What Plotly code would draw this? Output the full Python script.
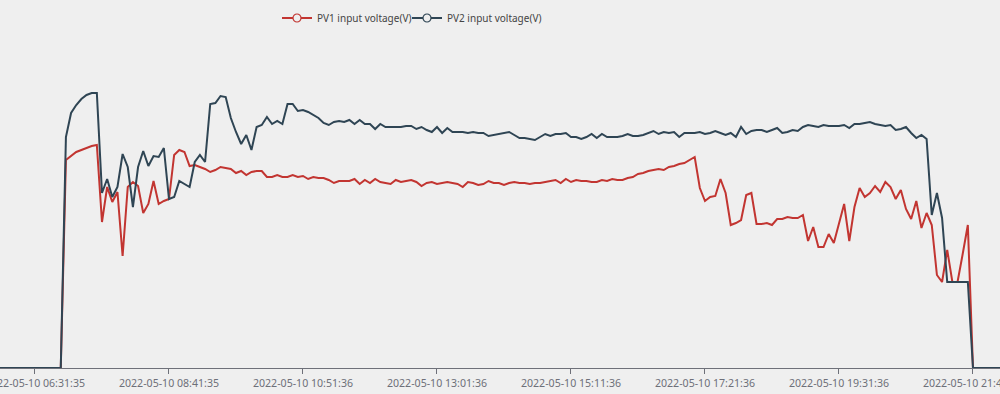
import plotly.graph_objects as go
from datetime import datetime, timedelta

# ---- data -------------------------------------------------------------
N_POINTS = 196
START_TIME = datetime(2022, 5, 10, 5, 56, 35)
TIMES = [
    (START_TIME + timedelta(minutes=5 * k, seconds=(1 if k >= 40 else 0))).strftime("%Y-%m-%d %H:%M:%S")
    for k in range(N_POINTS)
]

TICK_LABELS = [
    "2022-05-10 06:31:35",
    "2022-05-10 08:41:35",
    "2022-05-10 10:51:36",
    "2022-05-10 13:01:36",
    "2022-05-10 15:11:36",
    "2022-05-10 17:21:36",
    "2022-05-10 19:31:36",
    "2022-05-10 21:41:36",
]

PV1_V = (
    [0] * 13
    + [416, 424, 432, 436, 440, 444, 446, 292, 362, 332,
       352, 224, 362, 372, 364, 310, 328, 374, 328, 334,
       338, 426, 436, 432, 404, 406, 402, 398, 392, 396,
       402, 400, 398, 390, 394, 386, 392, 394, 394, 382,
       382, 386, 382, 382, 386, 382, 384, 378, 382, 380,
       380, 376, 370, 374, 374, 374, 378, 368, 376, 370,
       378, 372, 370, 368, 376, 372, 374, 376, 372, 364,
       370, 372, 368, 370, 372, 370, 368, 362, 372, 370,
       366, 368, 374, 370, 370, 366, 370, 372, 370, 370,
       368, 370, 370, 372, 374, 376, 370, 378, 372, 376,
       374, 374, 372, 372, 376, 374, 378, 376, 376, 380,
       382, 388, 390, 394, 396, 398, 396, 402, 404, 408,
       410, 416, 422, 360, 334, 342, 344, 378, 350, 286,
       290, 296, 346, 350, 288, 288, 290, 286, 298, 298,
       302, 300, 300, 306, 254, 282, 242, 242, 268, 250,
       292, 328, 254, 322, 360, 342, 350, 364, 352, 372,
       362, 338, 356, 318, 298, 334, 280, 310, 286, 186,
       172, 236, 172, 172, 228, 286]
    + [0] * 7
)

PV2_V = (
    [0] * 13
    + [462, 510, 526, 538, 546, 550, 550, 350, 378, 342,
       362, 428, 402, 322, 402, 434, 404, 424, 422, 440,
       338, 342, 374, 368, 362, 412, 426, 412, 528, 530,
       544, 542, 500, 472, 448, 466, 436, 482, 486, 502,
       488, 494, 488, 528, 528, 514, 516, 512, 506, 500,
       490, 486, 492, 494, 492, 496, 488, 496, 488, 488,
       478, 488, 482, 482, 482, 482, 484, 484, 478, 482,
       476, 472, 482, 470, 480, 472, 472,
       472, 470, 472, 470, 470, 464, 466, 468, 470, 472,
       466, 460, 460, 458, 456, 462, 468, 464, 468, 468,
       470, 462, 462, 458, 462, 468, 460, 468, 462, 462,
       462, 464, 468, 464, 464, 466, 470, 474, 468, 472,
       470, 472, 462, 470, 470, 470, 472, 468,
       470, 474, 470, 466, 470, 462, 482, 468, 474, 476,
       476, 472, 476, 480, 470, 472, 476, 474, 482, 486,
       484, 482, 486, 484, 484, 484, 486, 480, 488, 488,
       490, 492, 488, 486, 484, 486, 476, 478, 482, 470,
       460, 466, 458, 306, 350, 300, 172, 172, 172, 172,
       172]
    + [0] * 7
)

SERIES_NAMES = ["PV1 input voltage(V)", "PV2 input voltage(V)"]
SERIES_COLORS = ["#c23531", "#2f4554"]
LEGEND_IDS = ["legend", "legend2"]
LEGEND_X = [0.277, 0.407]
BG = "#efefef"

# ---- figure -----------------------------------------------------------
fig = go.Figure()
for name, vals, col, lid in zip(SERIES_NAMES, [PV1_V, PV2_V], SERIES_COLORS, LEGEND_IDS):
    fig.add_trace(go.Scatter(
        x=TIMES, y=vals, name=name, legend=lid,
        mode="lines+markers",
        line=dict(color=col, width=2),
        marker=dict(symbol="circle", size=8, color=BG, line=dict(color=col, width=1.2)),
        selectedpoints=[],
        unselected=dict(marker=dict(opacity=0)),
    ))

legend_common = dict(
    orientation="h", xanchor="left", y=1.1667, yanchor="middle",
    font=dict(family="Noto Sans", size=10, color="#444"),
    bgcolor="rgba(0,0,0,0)",
)

fig.update_layout(
    width=1000, height=394,
    margin=dict(l=0, r=0, t=68, b=26),
    paper_bgcolor=BG, plot_bgcolor=BG,
    font=dict(family="Noto Sans", size=10.6, color="#6e7079"),
    showlegend=True,
    legend=dict(x=LEGEND_X[0], **legend_common),
    legend2=dict(x=LEGEND_X[1], **legend_common),
    xaxis=dict(
        type="category",
        range=[0.21, 194.24],
        tickmode="array", tickvals=TICK_LABELS, ticktext=TICK_LABELS,
        showline=True, linecolor="#6e7079", linewidth=1,
        ticks="outside", ticklen=5, tickcolor="#6e7079",
        showgrid=False, zeroline=False, automargin=False,
        layer="below traces",
        tickfont=dict(family="Noto Sans", size=10.6, color="#6e7079"),
    ),
    yaxis=dict(
        range=[0, 600], showgrid=False, zeroline=False, showline=False,
        showticklabels=False, ticks="", automargin=False,
    ),
)

fig.write_html(
    "out.html",
    config={"displayModeBar": False},
    post_script="document.body.style.margin='0';document.body.style.overflow='hidden';document.body.style.background='%s';" % BG,
)
